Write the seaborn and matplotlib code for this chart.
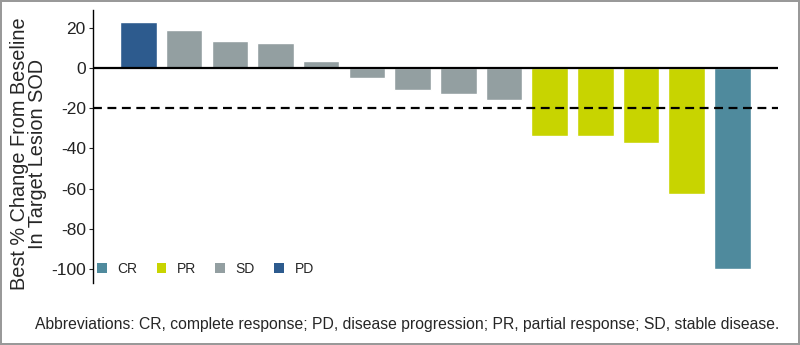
import matplotlib
matplotlib.use("Agg")
import matplotlib.pyplot as plt
import seaborn as sns
import pandas as pd
from matplotlib.patches import Patch

patients = list(range(1, 15))
values = [23, 19, 13.6, 12.5, 3.6, -5, -11, -13, -16, -33.7, -33.8, -37.5, -62.5, -100]
responses = ["PD", "SD", "SD", "SD", "SD", "SD", "SD", "SD", "SD", "PR", "PR", "PR", "PR", "CR"]
legend_order = ["CR", "PR", "SD", "PD"]
colors = {"CR": "#4f8a9d", "PR": "#c8d400", "SD": "#939fa1", "PD": "#2d5b8e"}
yticks = [20, 0, -20, -40, -60, -80, -100]
threshold = -20

df = pd.DataFrame({"patient": patients, "change": values, "response": responses})

sns.set_style("white")
plt.rcParams["font.family"] = ["Liberation Sans", "DejaVu Sans"]

fig = plt.figure(figsize=(8, 3.45), dpi=100)
ax = fig.add_axes([0.116, 0.180, 0.8565, 0.791])

sns.barplot(data=df, x="patient", y="change", hue="response", palette=colors,
            dodge=False, width=0.8, legend=False, ax=ax, saturation=1)

ax.set_xlim(-1, 14)
ax.set_ylim(-107, 29)
ax.axhline(0, color="black", lw=1.6, zorder=3)
ax.axhline(threshold, color="black", lw=1.6, ls=(0, (4, 2.5)), zorder=3)

ax.set_yticks(yticks)
ax.set_yticklabels([str(t) for t in yticks], fontsize=12.5, color="#222222")
ax.set_xticks([])
ax.set_xlabel("")
ax.set_ylabel("Best % Change From Beseline\nIn Target Lesion SOD", fontsize=14.3,
              linespacing=0.92, labelpad=3)
ax.yaxis.label.set_y(0.473)
ax.tick_params(axis="y", length=3, width=0.8, pad=2, left=True)
for s in ["top", "right", "bottom"]:
    ax.spines[s].set_visible(False)
ax.spines["left"].set_color("black")
ax.spines["left"].set_linewidth(1.0)

handles = [Patch(facecolor=colors[k], edgecolor="none", label=k) for k in legend_order]
ax.legend(handles=handles, ncol=4, loc="lower left", bbox_to_anchor=(-0.004, 0.0),
          frameon=False, fontsize=10, handlelength=0.7, handleheight=0.7,
          handletextpad=0.75, columnspacing=1.4, borderaxespad=0.2, borderpad=0.3)

fig.text(0.044, 0.058, "Abbreviations: CR, complete response; PD, disease progression; "
         "PR, partial response; SD, stable disease.",
         fontsize=11.3, ha="left", va="center")

fig.patch.set_edgecolor("#999999")
fig.patch.set_linewidth(1.5)

fig.savefig("out.png", dpi=100)
